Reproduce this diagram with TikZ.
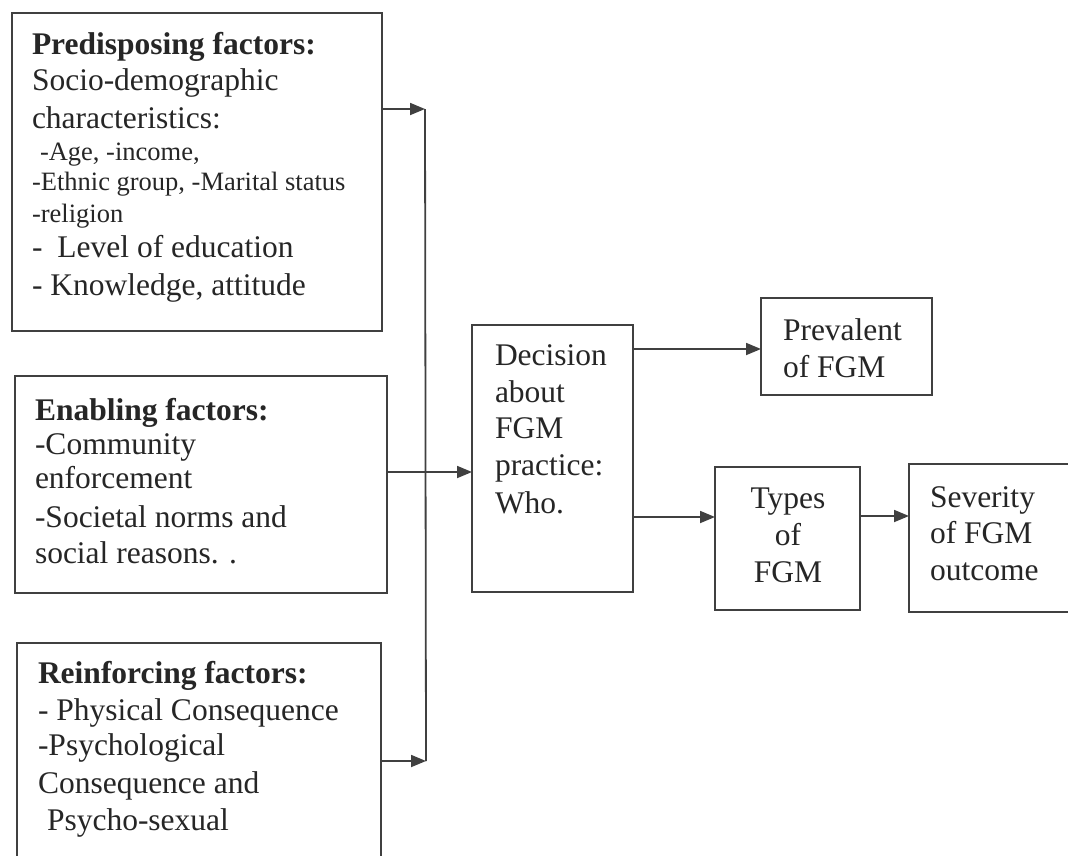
\documentclass[tikz,border=0pt]{standalone}
\usepackage{fontspec}
\setmainfont{Liberation Serif}
\usetikzlibrary{arrows.meta}
\definecolor{linec}{HTML}{404040}
\definecolor{textc}{HTML}{262626}
\newcommand{\bigf}{\fontsize{31.5}{36}\selectfont}
\newcommand{\smallf}{\fontsize{26.5}{31}\selectfont}
\newcommand{\diagline}[2]{\baselineskip=#1pt\hbox{#2}}
\newcommand{\diagcline}[2]{\baselineskip=#1pt\hbox to 0pt{\hss#2\hss}}
\begin{document}
\begin{tikzpicture}[x=1pt,y=-1pt,
  box/.style={draw=linec, line width=1.8pt, rectangle, inner sep=0pt, outer sep=0pt},
  txt/.style={anchor=base west, inner sep=0pt, outer sep=0pt, text=textc},
  arr/.style={draw=linec, line width=1.8pt, -{Triangle[length=15pt,width=12pt]}},
  ln/.style={draw=linec, line width=1.8pt}]
\useasboundingbox[fill=white] (0,0) rectangle (1068,855);

% boxes
\node[box, minimum width=370pt, minimum height=318pt] (b1) at (197,172) {};
\node[box, minimum width=372pt, minimum height=217pt] (b2) at (201,484.5) {};
\node[box, minimum width=364pt, minimum height=237pt] (b3) at (199,761.5) {};
\node[box, minimum width=161pt, minimum height=267pt] (dec) at (552.5,458.5) {};
\node[box, minimum width=171pt, minimum height=97pt] (prev) at (846.5,346.5) {};
\node[box, minimum width=145pt, minimum height=143pt] (types) at (787.5,538.5) {};
\node[box, minimum width=171pt, minimum height=148pt] (sev) at (994.5,538) {};

% texts
\node[txt] (t1) at (32,54) {\vtop{%
  \diagline{0}{\bigf\bfseries Predisposing factors:}
  \diagline{36}{\bigf Socio-demographic}
  \diagline{38}{\bigf characteristics:}
  \diagline{32}{\smallf\hspace*{8pt}-Age, -income,}
  \diagline{30}{\smallf -Ethnic group, -Marital status}
  \diagline{32}{\smallf -religion}
  \diagline{35}{\bigf -\hspace*{15pt}Level of education}
  \diagline{38}{\bigf - Knowledge, attitude}}};

\node[txt] (t2) at (35,420) {\vtop{%
  \diagline{0}{\bigf\bfseries Enabling factors:}
  \diagline{34}{\bigf -Community}
  \diagline{34}{\bigf enforcement}
  \diagline{39}{\bigf -Societal norms and}
  \diagline{36}{\bigf social reasons. .}}};

\node[txt] (t3) at (38,683) {\vtop{%
  \diagline{0}{\bigf\bfseries Reinforcing factors:}
  \diagline{37}{\bigf - Physical Consequence}
  \diagline{35}{\bigf -Psychological}
  \diagline{38}{\bigf Consequence and}
  \diagline{37}{\bigf\hspace*{9pt}Psycho-sexual}}};

\node[txt] (tdec) at (495,365) {\vtop{%
  \diagline{0}{\bigf Decision}
  \diagline{37}{\bigf about}
  \diagline{36}{\bigf FGM}
  \diagline{37}{\bigf practice:}
  \diagline{38}{\bigf Who.}}};

\node[txt] (tprev) at (783,340) {\vtop{%
  \diagline{0}{\bigf Prevalent}
  \diagline{37}{\bigf of FGM}}};

\node[txt] (ttypes) at (787.5,508) {\vtop{%
  \diagcline{0}{\bigf Types}
  \diagcline{37}{\bigf of}
  \diagcline{37}{\bigf FGM}}};

\node[txt] (tsev) at (930,507) {\vtop{%
  \diagline{0}{\bigf Severity}
  \diagline{36}{\bigf of FGM}
  \diagline{37}{\bigf outcome}}};

% connectors
\coordinate (jt) at (425,109);
\coordinate (jb) at (426,761);
\draw[ln] (jt) -- (jb);
\draw[arr] (b1.east |- jt) -- (jt);
\draw[arr] (b3.east |- jb) -- (jb);
\draw[arr] (b2.east |- 0,472) -- (dec.west |- 0,472);
\draw[arr] (dec.east |- 0,349) -- (prev.west |- 0,349);
\draw[arr] (dec.east |- 0,517) -- (types.west |- 0,517);
\draw[arr] (types.east |- 0,516) -- (sev.west |- 0,516);
\end{tikzpicture}
\end{document}
